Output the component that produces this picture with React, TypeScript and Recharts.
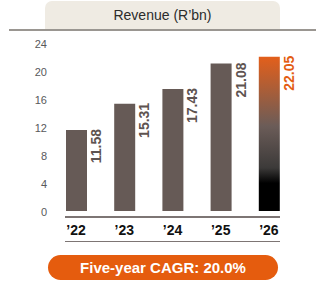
import { BarChart, Bar, XAxis, YAxis, Cell, LabelList } from 'recharts'

const years = ['’22', '’23', '’24', '’25', '’26']
const revenue = [11.58, 15.31, 17.43, 21.08, 22.05]
const yTicks = [0, 4, 8, 12, 16, 20, 24]

const data = years.map((year, i) => ({ year, revenue: revenue[i] }))
const lastValue = revenue[revenue.length - 1]

const BAR = '#665a56'
const ORANGE = '#e35d12'
const RULE = '#7d7574'

// vertical value label sitting to the right of each bar, ending at the bar top
function ValueLabel(props: any) {
  const vb = props.viewBox ?? props
  const x = Number(vb.x ?? props.x)
  const y = Number(vb.y ?? props.y)
  const width = Number(vb.width ?? props.width)
  const value = Number(props.value)
  const tx = x + width + 14
  const ty = y - 1
  return (
    <text
      x={tx}
      y={ty}
      transform={`rotate(-90 ${tx} ${ty})`}
      textAnchor="end"
      fill={value === lastValue ? ORANGE : '#5e5350'}
      fontSize={14}
      fontWeight={700}
    >
      {value.toFixed(2)}
    </text>
  )
}

export default function App() {
  return (
    <div
      style={{
        position: 'absolute',
        left: 0,
        top: 0,
        width: 325,
        height: 284,
        background: '#fff',
        fontFamily: '"Liberation Sans", Arial, sans-serif',
      }}
    >
      {/* header tab */}
      <div
        style={{
          position: 'absolute',
          left: 45,
          top: 1,
          width: 235,
          height: 29,
          background: '#efebe3',
          borderRadius: '7px 7px 0 0',
          textAlign: 'center',
          lineHeight: '29px',
          fontSize: 14,
          color: '#2b2b2b',
        }}
      >
        Revenue (R’bn)
      </div>
      <div style={{ position: 'absolute', left: 9, top: 29, width: 307, height: 2, background: '#9a9691' }} />

      <div style={{ position: 'absolute', left: 0, top: 0 }}>
        <BarChart width={325} height={284} data={data} margin={{ top: 43, right: 32, left: 0, bottom: 43 }}>
          <defs>
            <linearGradient id="lastBar" x1="0" y1="0" x2="0" y2="1">
              <stop offset="0%" stopColor="#e35f1b" />
              <stop offset="45%" stopColor="#6b5c58" />
              <stop offset="72%" stopColor="#3c3a39" />
              <stop offset="82%" stopColor="#000000" />
              <stop offset="100%" stopColor="#000000" />
            </linearGradient>
          </defs>
          <XAxis
            dataKey="year"
            axisLine={false}
            tickLine={false}
            tickSize={6}
            tickMargin={8}
            height={30}
            interval={0}
            tick={{ fill: '#111', fontSize: 14, fontWeight: 700 }}
          />
          <YAxis
            domain={[0, 24]}
            ticks={yTicks}
            axisLine={false}
            tickLine={false}
            tickSize={0}
            tickMargin={5}
            width={52}
            tick={{ fill: '#58595b', fontSize: 11, dy: 1 }}
          />
          <Bar dataKey="revenue" barSize={21} fill={BAR} isAnimationActive={false}>
            {data.map((d, i) => (
              <Cell key={d.year} fill={i === data.length - 1 ? 'url(#lastBar)' : BAR} />
            ))}
            <LabelList dataKey="revenue" content={<ValueLabel />} />
          </Bar>
        </BarChart>
      </div>

      {/* rules framing the year labels */}
      <div style={{ position: 'absolute', left: 65, top: 216, width: 215, height: 1.5, background: RULE }} />
      <div style={{ position: 'absolute', left: 65, top: 240.5, width: 215, height: 1.5, background: RULE }} />

      {/* CAGR pill */}
      <div
        style={{
          position: 'absolute',
          left: 48,
          top: 255,
          width: 230,
          height: 25,
          borderRadius: 13,
          background: '#e55c0e',
          color: '#fff',
          fontWeight: 700,
          fontSize: 15,
          textAlign: 'center',
          lineHeight: '25px',
        }}
      >
        Five-year CAGR: 20.0%
      </div>
    </div>
  )
}
